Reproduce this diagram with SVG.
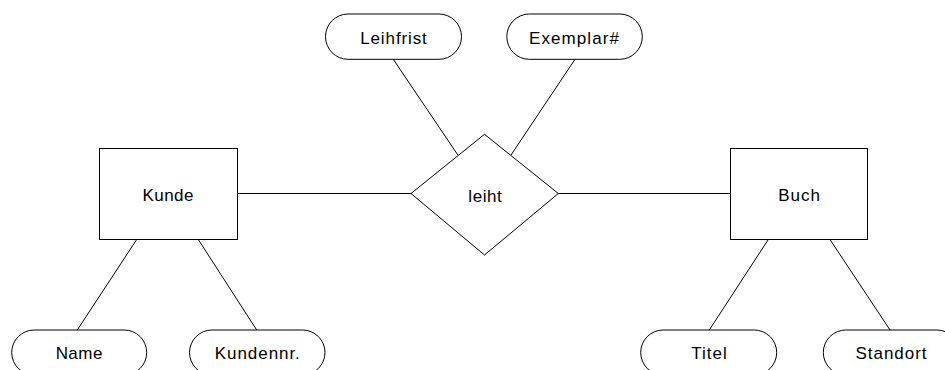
<svg xmlns="http://www.w3.org/2000/svg" width="945" height="370" viewBox="0 0 945 370">
<style>
.shape{fill:#fff;stroke:#000;stroke-width:1}
.conn line{stroke:#000;stroke-width:1}
text{font-family:"Liberation Sans",Arial,sans-serif;font-size:17px;fill:#000;text-anchor:middle}
</style>
<rect width="945" height="370" fill="#fff"/>
<g id="connectors" class="conn">
<line x1="237.5" y1="193.5" x2="411" y2="193.5"/>
<line x1="558" y1="193.5" x2="730.5" y2="193.5"/>
<line x1="393.3" y1="59.3" x2="458.3" y2="155.7"/>
<line x1="575" y1="59.3" x2="511" y2="155"/>
<line x1="136.7" y1="239.5" x2="77.3" y2="330"/>
<line x1="198.3" y1="239.5" x2="256.7" y2="330"/>
<line x1="768.3" y1="239.5" x2="709.3" y2="330"/>
<line x1="830" y1="239.5" x2="890" y2="330"/>
</g>
<g id="kunde"><rect class="shape" x="99.5" y="148.5" width="138" height="91"/><text x="168" y="201" textLength="51" lengthAdjust="spacing">Kunde</text></g>
<g id="buch"><rect class="shape" x="730.5" y="148.5" width="137" height="91"/><text x="799" y="201" textLength="41.7" lengthAdjust="spacing">Buch</text></g>
<g id="leiht"><polygon class="shape" points="484.5,134.3 558.3,193.5 484.5,255 411,193.5"/><text x="485" y="201.5" textLength="33.3" lengthAdjust="spacing">leiht</text></g>
<g id="leihfrist"><rect class="shape" x="325.5" y="14" width="136" height="45.3" rx="22.6"/><text x="393.5" y="44.3" textLength="66.7" lengthAdjust="spacing">Leihfrist</text></g>
<g id="exemplar"><rect class="shape" x="506.8" y="14" width="135.5" height="45.3" rx="22.6"/><text x="574" y="44.3" textLength="90" lengthAdjust="spacing">Exemplar#</text></g>
<g id="name"><rect class="shape" x="11.7" y="330" width="135" height="45" rx="22.5"/><text x="79" y="359" textLength="46.7" lengthAdjust="spacing">Name</text></g>
<g id="kundennr"><rect class="shape" x="189.5" y="330" width="135.5" height="45" rx="22.5"/><text x="257.3" y="359" textLength="85" lengthAdjust="spacing">Kundennr.</text></g>
<g id="titel"><rect class="shape" x="640.7" y="330" width="136" height="45" rx="22.5"/><text x="709" y="359" textLength="35.7" lengthAdjust="spacing">Titel</text></g>
<g id="standort"><rect class="shape" x="823.3" y="330" width="136" height="45" rx="22.5"/><text x="891" y="359" textLength="71" lengthAdjust="spacing">Standort</text></g>
</svg>
